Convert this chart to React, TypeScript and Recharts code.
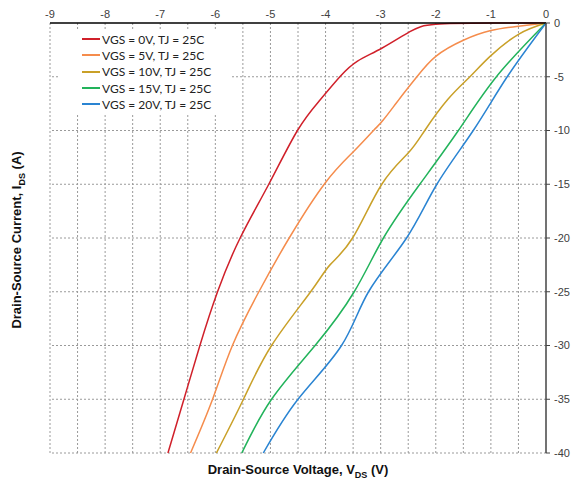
import React from 'react';
import { LineChart, Line, XAxis, YAxis, ReferenceLine, Legend } from 'recharts';

// axis ticks and grid positions (volts / amps)
const xTicks = [-9, -8, -7, -6, -5, -4, -3, -2, -1, 0];
const yTicks = [0, -5, -10, -15, -20, -25, -30, -35, -40];
const xGrid = [-9, -8.5, -8, -7.5, -7, -6.5, -6, -5.5, -5, -4.5, -4, -3.5, -3, -2.5, -2, -1.5, -1, -0.5];
const yGrid = [-5, -10, -15, -20, -25, -30, -35, -40];

const seriesNames = [
  'VGS = 0V, TJ = 25C',
  'VGS = 5V, TJ = 25C',
  'VGS = 10V, TJ = 25C',
  'VGS = 15V, TJ = 25C',
  'VGS = 20V, TJ = 25C',
];

const seriesColors = ['#d0202a', '#f58c4c', '#c9a028', '#22b35b', '#2a84d2'];

// [V_DS, I_DS]
const vgs0: [number, number][] = [
  [-6.86, -40], [-6.57, -35], [-6.28, -30], [-5.96, -25], [-5.55, -20], [-5.03, -15],
  [-4.51, -10], [-4.1, -7.16], [-3.74, -5.0], [-3.42, -3.55], [-2.98, -2.35],
  [-2.47, -0.8], [-2.0, -0.12], [-1.0, -0.01], [0, 0],
];
const vgs5: [number, number][] = [
  [-6.45, -40], [-6.05, -35], [-5.69, -30], [-5.21, -25], [-4.66, -20], [-4.01, -14.9],
  [-3.5, -12.0], [-3.13, -10.0], [-2.95, -9.0], [-2.65, -7.0], [-2.35, -5.05],
  [-2.0, -3.1], [-1.5, -1.6], [-1.0, -0.7], [-0.5, -0.3], [0, 0],
];
const vgs10: [number, number][] = [
  [-5.98, -40], [-5.49, -35], [-4.98, -30], [-4.27, -25], [-3.92, -22.5], [-3.51, -20],
  [-2.98, -15], [-2.5, -12.1], [-2.2, -10], [-1.78, -7.1], [-1.38, -5.0],
  [-1.02, -3.13], [-0.5, -1.05], [0, 0],
];
const vgs15: [number, number][] = [
  [-5.52, -40], [-4.98, -35], [-4.19, -30], [-3.48, -25], [-2.95, -20], [-2.29, -15],
  [-1.59, -10], [-0.9, -5.0], [0, 0],
];
const vgs20: [number, number][] = [
  [-5.13, -40], [-4.5, -35], [-3.71, -30], [-3.22, -25], [-2.53, -20], [-1.98, -15],
  [-1.32, -10], [-0.71, -5.05], [0, 0],
];

const seriesPoints = [vgs0, vgs5, vgs10, vgs15, vgs20];

const series = seriesPoints.map((pts, k) => ({
  name: seriesNames[k],
  color: seriesColors[k],
  data: pts.map(([v, i]) => ({ v, i })),
}));

const tickFont = { fontFamily: 'Liberation Sans, Arial, sans-serif', fontSize: 11, fill: '#404040' };
const titleFont: React.CSSProperties = {
  position: 'absolute',
  fontFamily: 'Liberation Sans, Arial, sans-serif',
  fontWeight: 'bold',
  fontSize: 13,
  color: '#111',
  whiteSpace: 'nowrap',
};

const renderLegend = (props: any) => {
  const items = [...(props.payload || [])].sort(
    (a: any, b: any) => seriesNames.indexOf(a.value) - seriesNames.indexOf(b.value)
  );
  return (
    <div
      style={{
        background: '#fff',
        padding: '2px 0 2px 22px',
        fontFamily: 'Lato, sans-serif',
        fontSize: 12,
        color: '#222',
      }}
    >
      {items.map((entry: any) => (
        <div key={entry.value} style={{ display: 'flex', alignItems: 'center', height: 16.3 }}>
          <span style={{ width: 18, height: 0, borderTop: `2px solid ${entry.color}`, marginRight: 2 }} />
          {entry.value}
        </div>
      ))}
    </div>
  );
};

export default function App() {
  return (
    <div style={{ position: 'absolute', left: 0, top: 0, width: 572, height: 487, background: '#fff' }}>
      <LineChart width={572} height={487} margin={{ top: 3, right: 0, bottom: 34, left: 50 }}>
        {xGrid.map((x) => (
          <ReferenceLine key={`gx${x}`} x={x} stroke="#9a9a9a" strokeDasharray="2 2" />
        ))}
        {yGrid.map((y) => (
          <ReferenceLine key={`gy${y}`} y={y} stroke="#9a9a9a" strokeDasharray="2 2" />
        ))}
        <XAxis
          dataKey="v"
          type="number"
          orientation="top"
          domain={[-9, 0]}
          ticks={xTicks}
          height={20}
          tickLine={false}
          tickSize={4}
          tickMargin={1}
          axisLine={{ stroke: '#000', strokeWidth: 1.5 }}
          tick={tickFont}
          allowDuplicatedCategory={false}
        />
        <YAxis
          type="number"
          orientation="right"
          domain={[-40, 0]}
          ticks={yTicks}
          width={26}
          tickSize={4}
          tickMargin={4}
          axisLine={{ stroke: '#444', strokeWidth: 1.5 }}
          tickLine={{ stroke: '#444' }}
          tick={tickFont}
        />
        {series.map((s) => (
          <Line
            key={s.name}
            data={s.data}
            dataKey="i"
            name={s.name}
            type="natural"
            stroke={s.color}
            strokeWidth={1.5}
            dot={false}
            activeDot={false}
            isAnimationActive={false}
          />
        ))}
        <Legend
          layout="horizontal"
          verticalAlign="middle"
          align="center"
          content={renderLegend}
          wrapperStyle={{ left: 60, top: 29, width: 170 }}
        />
      </LineChart>
      <div style={{ ...titleFont, left: 298, top: 471, transform: 'translate(-50%, -50%)' }}>
        Drain-Source Voltage, V<sub style={{ fontSize: 9 }}>DS</sub> (V)
      </div>
      <div style={{ ...titleFont, left: 18, top: 240, transform: 'translate(-50%, -50%) rotate(-90deg)' }}>
        Drain-Source Current, I<sub style={{ fontSize: 9 }}>DS</sub> (A)
      </div>
    </div>
  );
}
